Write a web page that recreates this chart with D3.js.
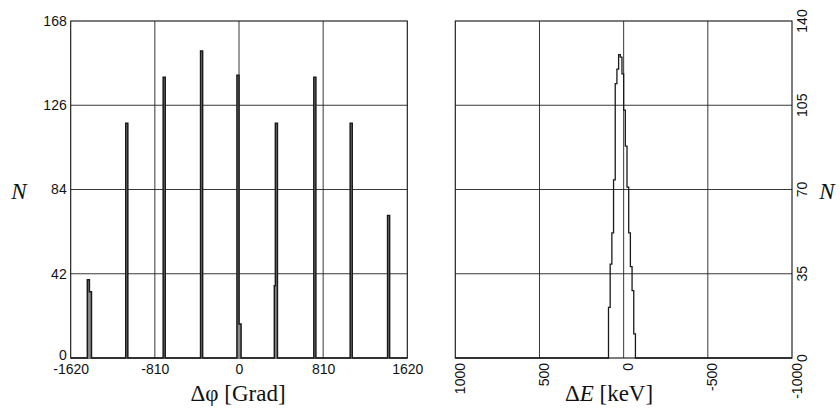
<!DOCTYPE html>
<html>
<head>
<meta charset="utf-8">
<script src="https://cdn.jsdelivr.net/npm/d3@7"></script>
<style>
  html, body { margin: 0; padding: 0; background: #fff; }
  svg { display: block; }
  .tick-label { font-family: "Liberation Sans", Arial, sans-serif; font-size: 14px; fill: #111; }
  .title { font-family: "Liberation Serif", "Times New Roman", serif; font-size: 23px; fill: #111; }
</style>
</head>
<body>
<svg id="chart" width="840" height="414"></svg>
<script>
// Left histogram: azimuthal difference, 10-degree bins (bin start, count)
const phiBinWidth = 10;
const phiBinStart = [-1460, -1450, -1440, -1430, -1090, -1080, -730, -720, -370, -360,
                     -20, -10, 0, 10, 340, 350, 360, 720, 730, 1070, 1080, 1430, 1440];
const phiCounts   = [39, 39, 33, 33, 117, 117, 140, 140, 153, 153,
                     141, 141, 17, 17, 36, 117, 117, 140, 140, 117, 117, 71, 71];
const phiTicks = [-1620, -810, 0, 810, 1620];
const phiCountTicks = [0, 42, 84, 126, 168];

// Right histogram: energy difference, 10 keV bins (bin start, count)
const eBinWidth = 10;
const eBinStart = [80, 70, 60, 50, 40, 30, 20, 10, 0, -10, -20, -30, -40, -50, -60, -70];
const eCounts   = [21, 39, 52, 74, 114, 120, 126, 125, 118, 103, 88, 71, 52, 38, 28, 10];
const eTicks = [1000, 500, 0, -500, -1000];
const eCountTicks = [0, 35, 70, 105, 140];

const svg = d3.select("#chart");
const plotTop = 21, plotBottom = 358;
const plain = d => String(d);

// Step outline of a histogram over the whole axis range
function outline(starts, counts, width, lo, hi) {
  const bins = starts.map((s, i) => ({ x0: s, x1: s + width, n: counts[i] }))
                     .sort((a, b) => a.x0 - b.x0);
  const pts = [[lo, 0]];
  let prevEnd = null;
  bins.forEach(b => {
    if (prevEnd !== b.x0) {
      if (prevEnd !== null) pts.push([prevEnd, 0]);
      pts.push([b.x0, 0]);
    }
    pts.push([b.x0, b.n], [b.x1, b.n]);
    prevEnd = b.x1;
  });
  pts.push([prevEnd, 0], [hi, 0]);
  return pts;
}

function gridAndFrame(g, x, y, xTicks, yTicks) {
  const [x0, x1] = x.range();
  g.append("g").selectAll("line").data(xTicks.slice(1, -1)).join("line")
    .attr("x1", d => x(d)).attr("x2", d => x(d))
    .attr("y1", plotTop).attr("y2", plotBottom)
    .attr("stroke", "#222").attr("stroke-width", 0.9);
  g.append("g").selectAll("line").data(yTicks.slice(1, -1)).join("line")
    .attr("x1", Math.min(x0, x1)).attr("x2", Math.max(x0, x1))
    .attr("y1", d => y(d)).attr("y2", d => y(d))
    .attr("stroke", "#222").attr("stroke-width", 0.9);
  g.append("rect")
    .attr("x", Math.min(x0, x1)).attr("y", plotTop)
    .attr("width", Math.abs(x1 - x0)).attr("height", plotBottom - plotTop)
    .attr("fill", "none").attr("stroke", "#111").attr("stroke-width", 1.1);
}

// ---------- Left panel ----------
const xL = d3.scaleLinear().domain([-1620, 1620]).range([70.7, 407.3]);
const yL = d3.scaleLinear().domain([0, 168]).range([plotBottom, plotTop]);
const gL = svg.append("g");
gridAndFrame(gL, xL, yL, phiTicks, phiCountTicks);

const lineL = d3.line().x(d => xL(d[0])).y(d => yL(d[1]));
gL.append("path")
  .attr("d", lineL(outline(phiBinStart, phiCounts, phiBinWidth, -1620, 1620)))
  .attr("fill", "#8a8a8a").attr("stroke", "#1a1a1a").attr("stroke-width", 1.5)
  .attr("stroke-linejoin", "miter");

gL.append("g").attr("transform", `translate(${xL.range()[0]},0)`)
  .call(d3.axisLeft(yL).tickValues(phiCountTicks).tickFormat(plain).tickSize(0).tickPadding(4))
  .call(g => g.select(".domain").remove())
  .call(g => g.selectAll(".tick").filter(d => d === 0).select("text").attr("dy", "0.1em"))
  .selectAll("text").attr("class", "tick-label").attr("font-size", null).attr("font-family", null);

gL.append("g").attr("transform", `translate(0,${plotBottom})`)
  .call(d3.axisBottom(xL).tickValues(phiTicks).tickFormat(plain).tickSize(0).tickPadding(6))
  .call(g => g.select(".domain").remove())
  .selectAll("text").attr("class", "tick-label").attr("font-size", null).attr("font-family", null);

svg.append("text").attr("class", "title")
  .attr("x", 19).attr("y", 199).attr("text-anchor", "middle")
  .attr("font-style", "italic").text("N");
svg.append("text").attr("class", "title")
  .attr("x", 238).attr("y", 401).attr("text-anchor", "middle")
  .text("Δφ [Grad]");

// ---------- Right panel ----------
const xR = d3.scaleLinear().domain([1000, -1000]).range([455.3, 792]);
const yR = d3.scaleLinear().domain([0, 140]).range([plotBottom, plotTop]);
const gR = svg.append("g");
gridAndFrame(gR, xR, yR, eTicks, eCountTicks);

const lineR = d3.line().x(d => xR(d[0])).y(d => yR(d[1]));
gR.append("path")
  .attr("d", lineR(outline(eBinStart, eCounts, eBinWidth, -1000, 1000)))
  .attr("fill", "none").attr("stroke", "#1a1a1a").attr("stroke-width", 1.3)
  .attr("stroke-linejoin", "miter");

// rotated tick labels (reading bottom to top)
gR.append("g").selectAll("text").data(eTicks).join("text")
  .attr("class", "tick-label")
  .attr("transform", d => `translate(${xR(d) + 9.5},${plotBottom + 5}) rotate(-90)`)
  .attr("text-anchor", "end")
  .text(plain);

gR.append("g").selectAll("text").data(eCountTicks).join("text")
  .attr("class", "tick-label")
  .attr("transform", d => `translate(${xR.range()[1] + 15},${yR(d)}) rotate(-90)`)
  .attr("text-anchor", "middle")
  .text(plain);

svg.append("text").attr("class", "title")
  .attr("x", 827).attr("y", 199).attr("text-anchor", "middle")
  .attr("font-style", "italic").text("N");
const tR = svg.append("text").attr("class", "title")
  .attr("x", 609).attr("y", 401).attr("text-anchor", "middle");
tR.append("tspan").text("Δ");
tR.append("tspan").attr("font-style", "italic").text("E");
tR.append("tspan").text(" [keV]");
</script>
</body>
</html>
